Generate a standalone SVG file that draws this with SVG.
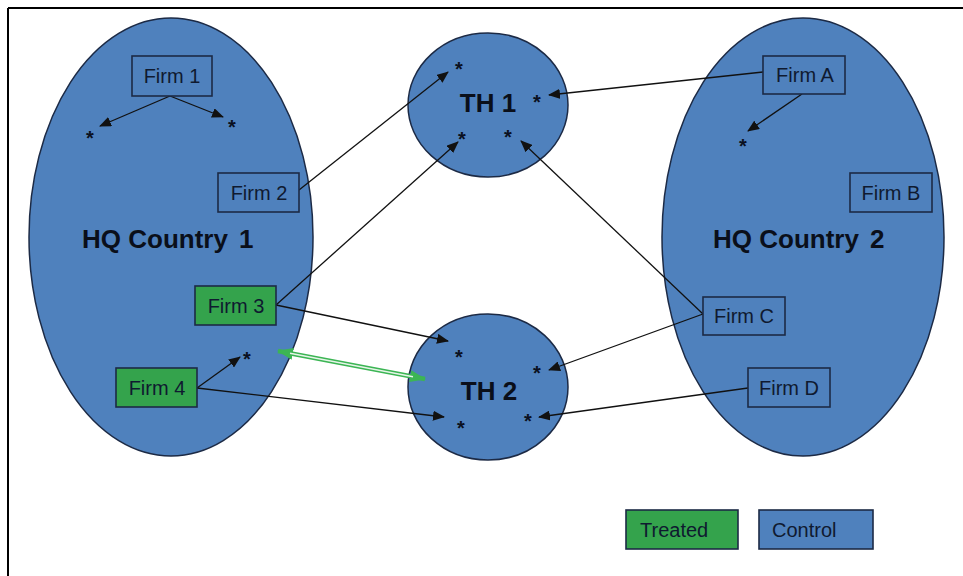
<svg xmlns="http://www.w3.org/2000/svg" width="963" height="576" viewBox="0 0 963 576">
<style>
.region{fill:#4f81bd;stroke:#1c2a45;stroke-width:1.5}
.box{stroke:#1c2a45;stroke-width:1.6}
.blue{fill:#4f81bd}
.green{fill:#34a34c}
.lbl{font-family:"Liberation Sans",Arial,sans-serif;font-size:20px;text-anchor:middle;fill:#0f1a30}
.leg{font-family:"Liberation Sans",Arial,sans-serif;font-size:20px;text-anchor:start;fill:#0f1a30}
.big{font-family:"Liberation Sans",Arial,sans-serif;font-size:26px;font-weight:bold;fill:#0a0f1a}
.star{font-family:"Liberation Sans",Arial,sans-serif;font-size:20px;font-weight:bold;text-anchor:middle;fill:#0a1020}
.conn{fill:none;stroke:#111;stroke-width:1.3}
</style>
<defs>
<marker id="ah" markerUnits="userSpaceOnUse" markerWidth="12" markerHeight="10" viewBox="0 0 12 10" refX="11" refY="5" orient="auto">
<path d="M0,0 L12,5 L0,10 z" fill="#111"/>
</marker>
<marker id="gh" markerUnits="userSpaceOnUse" markerWidth="16" markerHeight="12" viewBox="0 0 16 12" refX="15" refY="6" orient="auto-start-reverse">
<path d="M0,0 L16,6 L0,12 z" fill="#3cb554"/>
</marker>
</defs>
<rect width="963" height="576" fill="#fff"/>
<g id="frame">
<line x1="8" y1="8" x2="963" y2="8" stroke="#000" stroke-width="2"/>
<line x1="8" y1="8" x2="8" y2="576" stroke="#000" stroke-width="2"/>
</g>
<g id="hq1"><ellipse class="region" cx="171" cy="237" rx="142" ry="219"/><text class="big" x="82" y="248">HQ Country<tspan dx="4"> 1</tspan></text></g>
<g id="hq2"><ellipse class="region" cx="803" cy="237" rx="141" ry="219"/><text class="big" x="713" y="248">HQ Country<tspan dx="4"> 2</tspan></text></g>
<g id="th1"><ellipse class="region" cx="488" cy="105" rx="80" ry="72"/><text class="big" x="488" y="112" text-anchor="middle">TH 1</text></g>
<g id="th2"><ellipse class="region" cx="488" cy="387" rx="80" ry="73"/><text class="big" x="489" y="400" text-anchor="middle">TH 2</text></g>
<g id="stars">
<text class="star" x="90" y="145">*</text>
<text class="star" x="232" y="134">*</text>
<text class="star" x="459" y="76">*</text>
<text class="star" x="537" y="109">*</text>
<text class="star" x="462" y="146">*</text>
<text class="star" x="508" y="144">*</text>
<text class="star" x="743" y="153">*</text>
<text class="star" x="247" y="366">*</text>
<text class="star" x="459" y="364">*</text>
<text class="star" x="537" y="380">*</text>
<text class="star" x="461" y="435">*</text>
<text class="star" x="528" y="428">*</text>
</g>
<g id="connectors">
<line class="conn" x1="170" y1="96" x2="100" y2="126" marker-end="url(#ah)"/>
<line class="conn" x1="170" y1="96" x2="223" y2="117" marker-end="url(#ah)"/>
<line class="conn" x1="299" y1="190" x2="448" y2="72" marker-end="url(#ah)"/>
<line class="conn" x1="276" y1="305" x2="458" y2="142" marker-end="url(#ah)"/>
<line class="conn" x1="763" y1="72" x2="549" y2="95" marker-end="url(#ah)"/>
<line class="conn" x1="802" y1="94" x2="748" y2="131" marker-end="url(#ah)"/>
<line class="conn" x1="703" y1="314" x2="521" y2="141" marker-end="url(#ah)"/>
<line class="conn" x1="703" y1="314" x2="549" y2="370" marker-end="url(#ah)"/>
<line class="conn" x1="748" y1="388" x2="539" y2="417" marker-end="url(#ah)"/>
<line class="conn" x1="276" y1="305" x2="448" y2="341" marker-end="url(#ah)"/>
<line class="conn" x1="197" y1="388" x2="444" y2="417" marker-end="url(#ah)"/>
<line class="conn" x1="197" y1="388" x2="240" y2="357" marker-end="url(#ah)"/>
<line x1="278" y1="351" x2="425" y2="379" stroke="#3cb554" stroke-width="4.5" marker-start="url(#gh)" marker-end="url(#gh)"/>
<line x1="290" y1="353.3" x2="413" y2="376.7" stroke="#e6f5e8" stroke-width="1.5"/>
</g>
<g id="firm1"><rect class="box blue" x="132" y="56" width="80" height="40"/><text class="lbl" x="172" y="83">Firm 1</text></g>
<g id="firm2"><rect class="box blue" x="218" y="173" width="81" height="39"/><text class="lbl" x="259" y="200">Firm 2</text></g>
<g id="firm3"><rect class="box green" x="195" y="286" width="81" height="39"/><text class="lbl" x="236" y="313">Firm 3</text></g>
<g id="firm4"><rect class="box green" x="116" y="368" width="81" height="39"/><text class="lbl" x="157" y="395">Firm 4</text></g>
<g id="firmA"><rect class="box blue" x="763" y="56" width="82" height="38"/><text class="lbl" x="805" y="82">Firm A</text></g>
<g id="firmB"><rect class="box blue" x="850" y="173" width="82" height="39"/><text class="lbl" x="891" y="200">Firm B</text></g>
<g id="firmC"><rect class="box blue" x="703" y="297" width="82" height="38"/><text class="lbl" x="744" y="323">Firm C</text></g>
<g id="firmD"><rect class="box blue" x="748" y="368" width="82" height="39"/><text class="lbl" x="789" y="395">Firm D</text></g>
<g id="legend-treated"><rect class="box green" x="626" y="510" width="112" height="39"/><text class="leg" x="640" y="537">Treated</text></g>
<g id="legend-control"><rect class="box blue" x="759" y="510" width="114" height="39"/><text class="leg" x="772" y="537">Control</text></g>
</svg>
